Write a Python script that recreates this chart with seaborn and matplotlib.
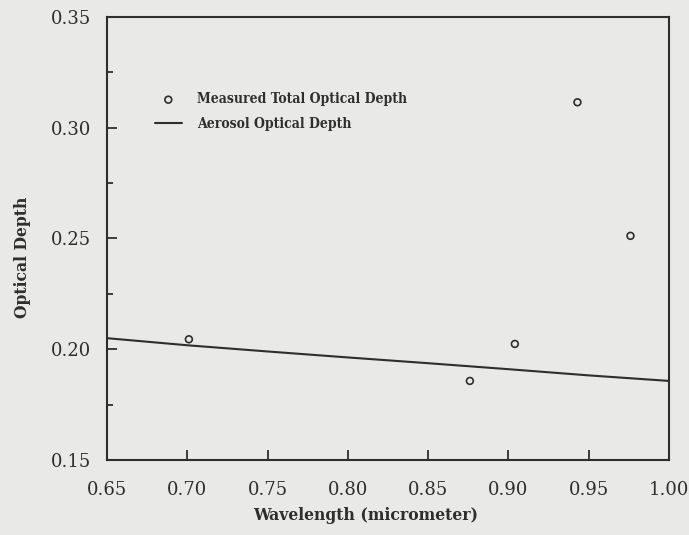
import pandas as pd
import matplotlib.pyplot as plt
import seaborn as sns
from matplotlib.ticker import MultipleLocator, FormatStrFormatter

# measured total optical depth (points)
meas_wl = [0.701, 0.876, 0.904, 0.943, 0.976]
meas_tau = [0.2045, 0.1857, 0.2024, 0.3115, 0.2512]

# aerosol optical depth (line)
aer_wl = [0.65, 0.70, 0.75, 0.80, 0.85, 0.90, 0.95, 1.00]
aer_tau = [0.2050, 0.2018, 0.1990, 0.1963, 0.1937, 0.1910, 0.1882, 0.1857]

sns.set_style('ticks')
bg = '#e9e9e7'
ink = '#2e2e2e'
fig = plt.figure(figsize=(6.89, 5.35), dpi=100, facecolor=bg)
ax = fig.add_axes([107 / 689, 1 - 460 / 535, 562 / 689, 443 / 535])
ax.set_facecolor(bg)

df_meas = pd.DataFrame({'wl': meas_wl, 'tau': meas_tau})
df_aer = pd.DataFrame({'wl': aer_wl, 'tau': aer_tau})

sns.scatterplot(data=df_meas, x='wl', y='tau', ax=ax, marker='o', s=24,
                facecolor='none', edgecolor=ink, linewidth=1.2,
                label='Measured Total Optical Depth')
sns.lineplot(data=df_aer, x='wl', y='tau', ax=ax, color=ink, lw=1.5,
             label='Aerosol Optical Depth')

ax.set_xlim(0.65, 1.00)
ax.set_ylim(0.15, 0.35)
ax.xaxis.set_major_locator(MultipleLocator(0.05))
ax.yaxis.set_major_locator(MultipleLocator(0.05))
ax.yaxis.set_minor_locator(MultipleLocator(0.025))
ax.xaxis.set_major_formatter(FormatStrFormatter('%.2f'))
ax.yaxis.set_major_formatter(FormatStrFormatter('%.2f'))

ax.tick_params(axis='both', which='major', direction='in', length=7.5, width=1.3,
               color=ink, labelsize=13, labelcolor=ink)
ax.tick_params(axis='x', pad=15)
ax.tick_params(axis='y', pad=11.5)
ax.tick_params(axis='y', which='minor', direction='in', length=4, width=1.3,
               color=ink)
for lab in ax.get_xticklabels() + ax.get_yticklabels():
    lab.set_family('DejaVu Serif')
for sp in ax.spines.values():
    sp.set_color(ink)
    sp.set_linewidth(1.5)

# axis labels (the originals sit a bit off-centre)
lab_font = dict(family='DejaVu Serif', fontstretch='condensed', weight='bold',
                color=ink)
ax.set_xlabel('Wavelength (micrometer)', size=12.5, **lab_font)
ax.set_ylabel('Optical Depth', size=12.5, **lab_font)
ax.xaxis.set_label_coords(0.46, -0.106)
ax.yaxis.set_label_coords(-0.135, 0.458)

leg = ax.legend(loc='upper left', bbox_to_anchor=(0.085, 0.83), frameon=False,
                borderpad=0, borderaxespad=0,
                handlelength=1.95, handletextpad=1.1, labelspacing=0.75,
                prop=dict(family='DejaVu Serif', stretch='condensed',
                          weight='bold', size=10))
for t in leg.get_texts():
    t.set_color(ink)

fig.savefig('out.png', dpi=100, facecolor=bg)
